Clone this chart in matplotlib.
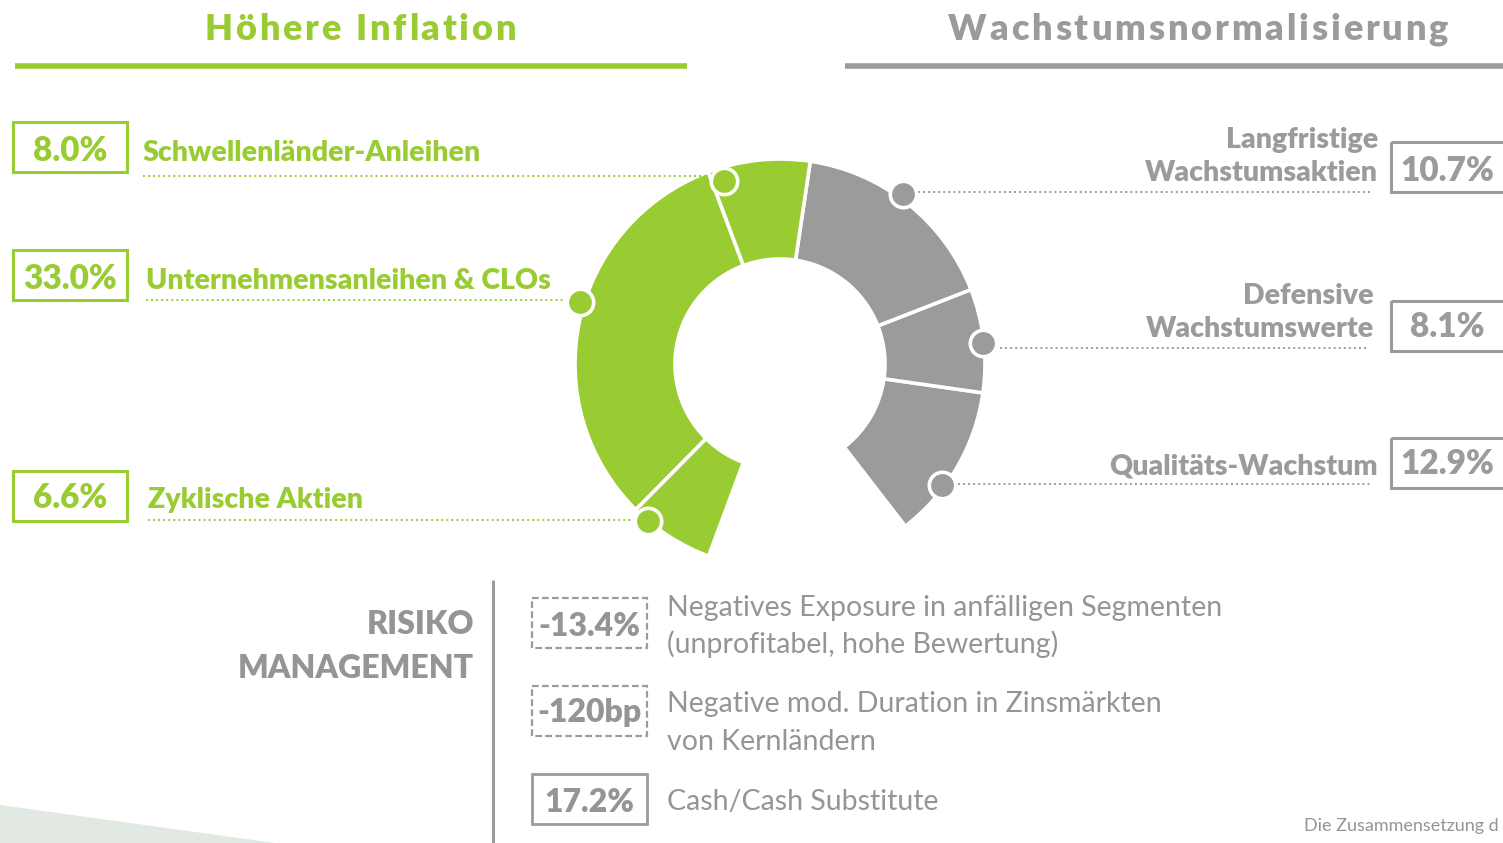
import matplotlib
matplotlib.use("Agg")
import matplotlib.pyplot as plt
from matplotlib.patches import Rectangle, Polygon
import numpy as np

# ---------------- data ----------------
green_labels = ["Schwellenländer-Anleihen", "Unternehmensanleihen & CLOs", "Zyklische Aktien"]
green_values = ["8.0%", "33.0%", "6.6%"]
gray_labels = ["Langfristige\nWachstumsaktien", "Defensive\nWachstumswerte", "Qualitäts-Wachstum"]
gray_values = ["10.7%", "8.1%", "12.9%"]
# angular spans of ring segments as drawn (degrees), counter-clockwise from gap end
# order: Qualitäts-Wachstum, Defensive, Langfristige, Schwellenländer, Unternehmens, Zyklische
segment_spans = [44.2, 29.4, 60.2, 29.0, 114.8, 24.3]
risk_values = ["-13.4%", "-120bp", "17.2%"]
risk_texts = ["Negatives Exposure in anfälligen Segmenten\n(unprofitabel, hohe Bewertung)",
              "Negative mod. Duration in Zinsmärkten\nvon Kernländern",
              "Cash/Cash Substitute"]
title_left = "Höhere Inflation"
title_right = "Wachstumsnormalisierung"

GREEN = "#99CC33"
GRAY = "#9B9B9B"
TGRAY = "#959595"
FONT = "Lato"
BOLD = 800

W, H = 1503, 843
fig = plt.figure(figsize=(W / 100, H / 100), dpi=100)
ax = fig.add_axes([0, 0, 1, 1])

# ring
cx, cy, r_out, r_in = 780, 364, 205, 105
gap = 360 - sum(segment_spans)
cols = [GRAY, GRAY, GRAY, GREEN, GREEN, GREEN, "none"]
wedges, _ = ax.pie(segment_spans + [gap], colors=cols, startangle=52.3, counterclock=False,
                   radius=r_out, center=(cx, cy),
                   wedgeprops=dict(width=r_out - r_in, edgecolor="white", linewidth=2.6))
wedges[-1].set_visible(False)

ax.set_xlim(0, W)
ax.set_ylim(H, 0)
ax.set_aspect("auto")
ax.axis("off")

# markers on ring (visual angle, radius)
marker_pos = {"8.0%": (107, 191), "33.0%": (162.7, 209), "6.6%": (230, 205),
              "10.7%": (54.2, 210), "8.1%": (5.8, 204), "12.9%": (-36.7, 202)}
def mpos(key):
    a, r = marker_pos[key]
    return cx + r * np.cos(np.radians(a)), cy - r * np.sin(np.radians(a))

for key, col in zip(green_values + gray_values, [GREEN] * 3 + [GRAY] * 3):
    x, y = mpos(key)
    ax.plot([x], [y], marker="o", ms=19, mfc=col, mec="white", mew=2.6, zorder=5)

renderer = fig.canvas.get_renderer()
def spaced(s, x, y, spacing, ha="center", **kw):
    widths = []
    for ch in s:
        t = ax.text(0, 0, ch, **kw)
        bb = t.get_window_extent(renderer)
        widths.append(bb.width if ch != " " else None)
        t.remove()
    sp_w = 0.26 * kw.get("fontsize", 20) / 0.72
    widths = [w if w is not None else sp_w for w in widths]
    total = sum(widths) + spacing * (len(s) - 1)
    x0 = x - total / 2 if ha == "center" else x
    for ch, w in zip(s, widths):
        ax.text(x0, y, ch, ha="left", va="baseline", **kw)
        x0 += w + spacing

# titles
spaced(title_left, 360, 40, 2.8, fontsize=26, fontweight=BOLD, color=GREEN, family=FONT)
spaced(title_right, 1198, 40, 2.9, fontsize=26, fontweight=BOLD, color=GRAY, family=FONT)
ax.plot([15, 687], [66, 66], color=GREEN, lw=4, solid_capstyle="butt")
ax.plot([845, 1503], [66, 66], color=GRAY, lw=4, solid_capstyle="butt")

# left side
left_rows = [(122, 161, 143, 176), (250, 289, 146, 300), (471, 508, 148, 520)]
for (btop, base, tx, ly), val, lab in zip(left_rows, green_values, green_labels):
    ax.add_patch(Rectangle((13, btop), 114, 50, fill=False, ec=GREEN, lw=2.2))
    ax.text(70, base, val, ha="center", va="baseline", fontsize=24, fontweight=BOLD,
            color=GREEN, family=FONT)
    ax.text(tx, base, lab, ha="left", va="baseline", fontsize=20.5, fontweight=BOLD,
            color=GREEN, family=FONT)
    mx, my = mpos(val)
    ax.plot([tx, mx - 16], [ly, ly], color=GREEN, lw=1.4, ls=(0, (1, 1.6)))

# right side
right_rows = [(142, 181, 1378, 192, 918), (301, 337, 1374, 348, 1000), (438, 474, 1378, 484, 958)]
for (btop, base, tx, ly, lx0), val, lab in zip(right_rows, gray_values, gray_labels):
    ax.add_patch(Rectangle((1391, btop), 130, 50, fill=False, ec=GRAY, lw=2.2, clip_on=False))
    ax.text(1447, base, val, ha="center", va="baseline", fontsize=24, fontweight=BOLD,
            color=GRAY, family=FONT)
    lines = lab.split("\n")
    for i, ln in enumerate(reversed(lines)):
        ax.text(tx, base - i * 33, ln, ha="right", va="baseline", fontsize=20.5,
                fontweight=BOLD, color=GRAY, family=FONT)
    ax.plot([lx0, tx - 8], [ly, ly], color=GRAY, lw=1.4, ls=(0, (1, 1.6)))

# risk management
ax.text(474, 634, "RISIKO", ha="right", va="baseline", fontsize=23, fontweight=BOLD,
        color=TGRAY, family=FONT)
ax.text(474, 678, "MANAGEMENT", ha="right", va="baseline", fontsize=23, fontweight=BOLD,
        color=TGRAY, family=FONT)
ax.plot([493, 493], [580, 843], color=GRAY, lw=2.2, solid_capstyle="butt")

risk_rows = [(598, 636, "--", 616), (686, 722, "--", 712), (774, 812, "-", 810)]
for (btop, base, ls, tb), val, txt in zip(risk_rows, risk_values, risk_texts):
    ax.add_patch(Rectangle((532, btop), 115, 50, fill=False, ec=GRAY,
                           lw=1.6 if ls == "--" else 2.0,
                           ls=(0, (3, 1.5)) if ls == "--" else "-"))
    ax.text(589.5, base, val, ha="center", va="baseline", fontsize=23, fontweight=BOLD,
            color=TGRAY, family=FONT)
    for i, ln in enumerate(txt.split("\n")):
        ax.text(667, tb + i * 37.5, ln, ha="left", va="baseline", fontsize=20.5,
                color=TGRAY, family=FONT)

ax.text(1304, 831, "Die Zusammensetzung d", ha="left", va="baseline", fontsize=13,
        color=TGRAY, family=FONT)

ax.add_patch(Polygon([(0, 805), (275, 843), (0, 843)], closed=True, fc="#E2E9E3", ec="none",
                     zorder=0))

fig.savefig("out.png", dpi=100)
